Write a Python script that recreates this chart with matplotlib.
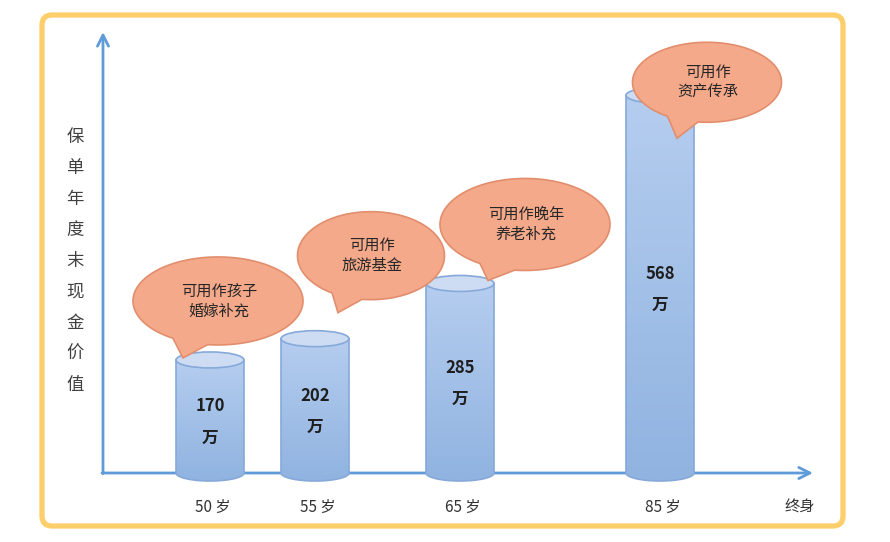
import numpy as np
import matplotlib
matplotlib.use("Agg")
from matplotlib import pyplot as plt
from matplotlib.patches import Polygon, Ellipse, FancyBboxPatch
from matplotlib.transforms import offset_copy
from matplotlib.colors import LinearSegmentedColormap

plt.rcParams['font.family'] = ['Noto Sans CJK SC', 'DejaVu Sans']

# data
ages = ['50 岁', '55 岁', '65 岁', '85 岁']
values = [170, 202, 285, 568]
value_units = ['万', '万', '万', '万']
notes = ['可用作孩子\n婚嫁补充', '可用作\n旅游基金', '可用作晚年\n养老补充', '可用作\n资产传承']
end_label = '终身'
ylabel = '保单年度末现金价值'

# layout (pixels)
W, H = 890, 542
x_pos = [107, 212, 357, 557]
end_x = 697
bar_w = 68
px_per_unit = 0.665
ell_h = 16 / px_per_unit

fig = plt.figure(figsize=(W / 100, H / 100), dpi=100)
ymin, ymax = -20, (473 - 32) / px_per_unit
bottom_px = 473 + (-ymin) * px_per_unit
ax = fig.add_axes([103 / W, (H - bottom_px) / H, 702 / W, (bottom_px - 32) / H])
ax.set_xlim(0, 702)
ax.set_ylim(ymin, ymax)
ax.axis('off')

axis_col = '#5f9bd8'
ax.annotate('', xy=(710, 0), xytext=(-1, 0),
            arrowprops=dict(arrowstyle='->', color=axis_col, lw=2,
                            mutation_scale=20, shrinkA=0, shrinkB=0),
            annotation_clip=False, zorder=1)
ax.annotate('', xy=(0, ymax), xytext=(0, -1),
            arrowprops=dict(arrowstyle='->', color=axis_col, lw=2,
                            mutation_scale=20, shrinkA=0, shrinkB=0),
            annotation_clip=False, zorder=1)

cmap = LinearSegmentedColormap.from_list('cyl', ['#90b3e0', '#b5cdef'])
grad = np.linspace(0, 1, 100).reshape(-1, 1)
edge = '#86a9da'

def draw_cylinder(x, v):
	t = np.linspace(np.pi, 2 * np.pi, 60)
	bottom = np.column_stack([x + bar_w / 2 * np.cos(t), ell_h / 2 * np.sin(t)])
	pts = np.vstack([[[x - bar_w / 2, v]], bottom, [[x + bar_w / 2, v]]])
	body = Polygon(pts, closed=True, facecolor='none', edgecolor=edge, lw=1.2, zorder=3)
	ax.add_patch(body)
	img = ax.imshow(grad, extent=[x - bar_w / 2, x + bar_w / 2, -ell_h / 2, v],
	                origin='lower', cmap=cmap, aspect='auto', zorder=2)
	img.set_clip_path(body)
	top = Ellipse((x, v), bar_w, ell_h, facecolor='#cddcf2', edgecolor=edge, lw=1.2, zorder=4)
	ax.add_patch(top)

for x, v in zip(x_pos, values):
	draw_cylinder(x, v)

ax.set_xlim(0, 702)
ax.set_ylim(ymin, ymax)

# value labels
for x, v, u in zip(x_pos, values, value_units):
	ax.text(x, v / 2, str(v), transform=offset_copy(ax.transData, fig, y=10, units='dots'),
	        ha='center', va='center', fontsize=12, fontweight='bold', color='#1e1e1e', zorder=5)
	ax.text(x, v / 2, u, transform=offset_copy(ax.transData, fig, y=-21, units='dots'),
	        ha='center', va='center', fontsize=12, fontweight='bold', color='#1e1e1e', zorder=5)

# x labels
lab_tr = offset_copy(ax.transData, fig, y=-34, units='dots')
for x, a in zip(x_pos, ages):
	ax.text(x + 3, 0, a, transform=lab_tr, ha='center', va='center', fontsize=11, color='#333333')
ax.text(end_x, 0, end_label, transform=lab_tr, ha='center', va='center', fontsize=11, color='#333333')

# overlay in pixel coords
ov = fig.add_axes([0, 0, 1, 1], zorder=5)
ov.set_xlim(0, W)
ov.set_ylim(H, 0)
ov.axis('off')
ov.patch.set_alpha(0)

frame = FancyBboxPatch((42, 15), 801, 511, boxstyle='round,pad=0,rounding_size=10',
                       facecolor='none', edgecolor='#fccf6c', lw=3.8)
ov.add_patch(frame)

for i, ch in enumerate(ylabel):
	ov.text(75, 137 + 31 * i, ch, ha='center', va='center', fontsize=12.5, color='#404040')

# bubbles: tip offset from bar top, ellipse centre from tip, size
tips = [(-27, -2), (23, -26), (28, -3), (17, 43)]
centres = [(35, -57), (33, -57), (37, -56), (30, -56)]
sizes = [(170, 88), (147, 88), (170, 92), (149, 80)]

for x, v, note, tp, c, s in zip(x_pos, values, notes, tips, centres, sizes):
	dx, dy = ax.transData.transform((x, v))
	tipx, tipy = dx + tp[0], (H - dy) + tp[1]
	cx, cy = tipx + c[0], tipy + c[1]
	a1, a2 = np.radians(97), np.radians(122)
	t = np.linspace(a2, a1 + 2 * np.pi, 200)
	pts = np.column_stack([cx + s[0] / 2 * np.cos(t), cy + s[1] / 2 * np.sin(t)])
	pts = np.vstack([pts, [[tipx, tipy]]])
	ov.add_patch(Polygon(pts, closed=True, facecolor='#f4a98a', edgecolor='#e28e6d', lw=1.2))
	ov.text(cx + 1, cy, note, ha='center', va='center', fontsize=11, color='#262626',
	        linespacing=1.25)

fig.savefig('out.png', dpi=100)
